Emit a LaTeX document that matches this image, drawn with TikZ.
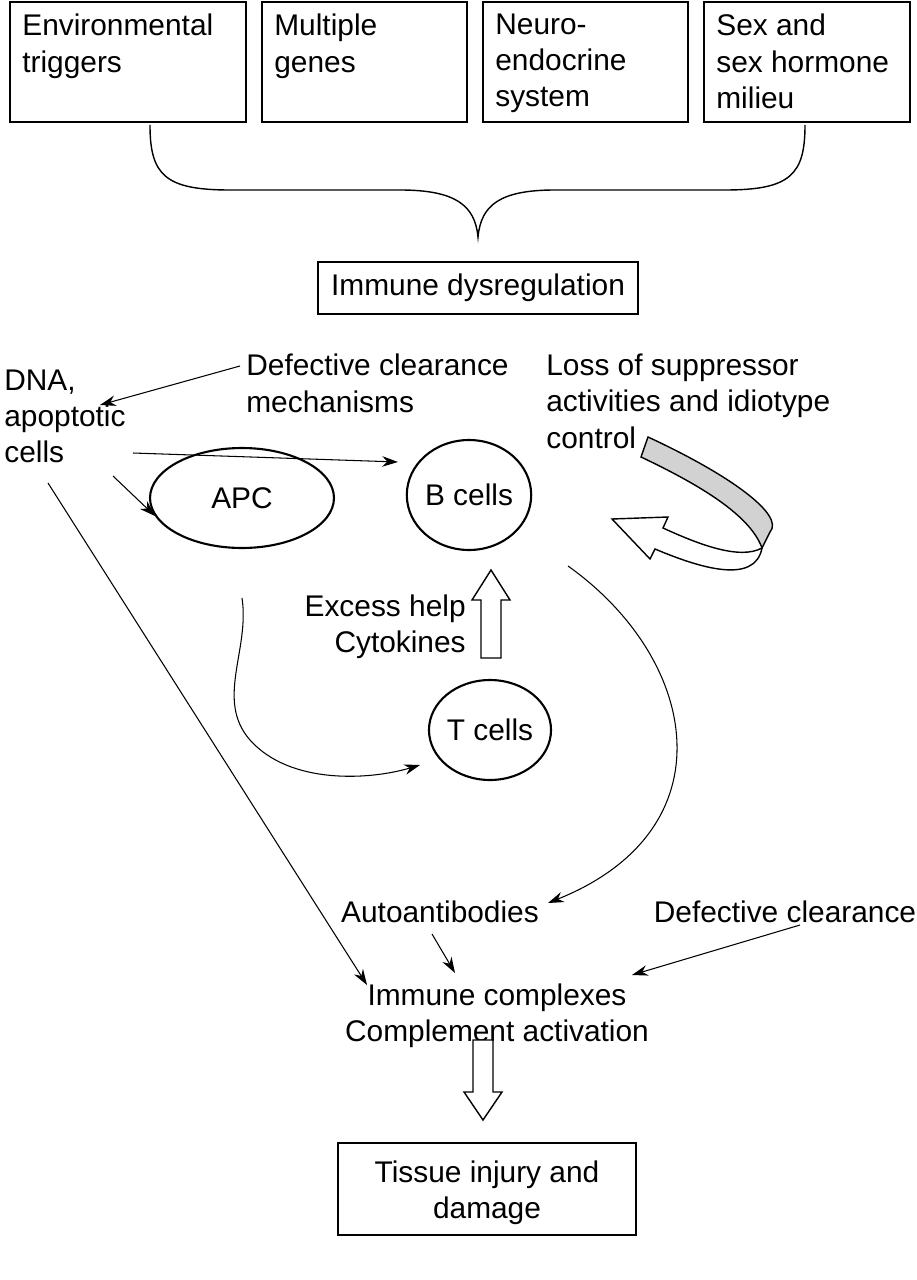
\documentclass[tikz,border=0pt]{standalone}
\usepackage{fontspec}
\setmainfont{Liberation Sans}
\usetikzlibrary{arrows.meta,shapes.geometric}
\begin{document}
\begin{tikzpicture}[x=0.02cm,y=-0.02cm,
  every node/.style={font=\fontsize{17}{20.5}\selectfont},
  txt/.style={align=left,inner sep=0pt},
  box/.style={draw,line width=1.2pt},
  cell/.style={draw,ellipse,line width=1.2pt,inner sep=0pt},
  arr/.style={-{Stealth[length=9pt,width=6pt]},line width=0.6pt},
  blk/.style={draw,line width=0.8pt,fill=white}]
\useasboundingbox (0,0) rectangle (916,1280);
% top factors
\draw[box] (10,2) rectangle (246,122);
\draw[box] (262,2) rectangle (467,122);
\draw[box] (483,2) rectangle (688,122);
\draw[box] (704,2) rectangle (910,122);
\node[txt,anchor=north west] (f1) at (22,14) {Environmental\\triggers};
\node[txt,anchor=north west] (f2) at (274,14) {Multiple\\genes};
\node[txt,anchor=north west] (f3) at (495,14) {Neuro-\\endocrine\\system};
\node[txt,anchor=north west] (f4) at (716,14) {Sex and\\sex hormone\\milieu};
% brace
\draw[line width=0.8pt] (150,125) .. controls (150,175) and (165,190) .. (230,190)
  -- (400,190) .. controls (455,190) and (475,205) .. (478,237)
  .. controls (481,205) and (500,190) .. (555,190) -- (725,190)
  .. controls (790,190) and (805,175) .. (805,125);
\draw[box] (318,262) rectangle (638,314);
\node (dys) at (478,288) {Immune dysregulation};
% middle texts
\node[txt,anchor=north west] (dcm) at (246,354) {Defective clearance\\mechanisms};
\node[txt,anchor=north west] (loss) at (546,354) {Loss of suppressor\\activities and idiotype\\control};
\node[txt,anchor=north west] (dna) at (4,370) {DNA,\\apoptotic\\cells};
\node[cell,minimum width=3.68cm,minimum height=2cm] (apc) at (242,498) {APC};
\node[cell,minimum width=2.4cm,minimum height=2.2cm] (bc) at (469,495) {B cells};
\node[cell,minimum width=2.32cm,minimum height=2cm] (tc) at (490,730) {T cells};
\node[txt,align=right,anchor=north east] (help) at (466,594) {Excess help\\Cytokines};
% arrows
\coordinate (d1) at (240,366); \coordinate (d2) at (100,405);
\draw[arr] (d1) -- (d2);
\coordinate (n1) at (133,453); \coordinate (n2) at (398,462);
\draw[arr] (n1) -- (n2);
\coordinate (a1) at (113,476); \coordinate (a2) at (155,516);
\draw[arr] (a1) -- (a2);
\coordinate (l1) at (48,483); \coordinate (l2) at (367,985);
\draw[arr] (l1) -- (l2);
\coordinate (p1) at (242,598); \coordinate (p2) at (420,765);
\draw[arr] (p1) .. controls (250,650) and (215,700) .. (250,740) .. controls (290,785) and (370,780) .. (p2);
\coordinate (b1) at (568,566); \coordinate (b2) at (548,903);
\draw[arr] (b1) .. controls (700,660) and (730,830) .. (b2);
% up block arrow
\draw[blk] (481,658) -- (481,600) -- (472,600) -- (491,570) -- (510,600) -- (501,600) -- (501,658) -- cycle;
% ribbon arrow
\draw[line width=0.8pt,fill=gray!35] (648,437) .. controls (730,475) and (785,515) .. (770,532) -- (762,548) .. controls (750,515) and (700,485) .. (641,457) -- cycle;
\draw[line width=0.8pt,fill=white] (762,548) .. controls (740,560) and (700,545) .. (663,528) -- (668,517) -- (612,519) -- (650,559) -- (655,549) .. controls (700,568) and (755,585) .. (762,548) -- cycle;
% bottom
\node (aab) at (440,912) {Autoantibodies};
\node (dc) at (785,912) {Defective clearance};
\node[align=center] (ic) at (497,1016) {Immune complexes\\Complement activation};
\coordinate (u1) at (432,934); \coordinate (u2) at (455,973);
\draw[arr] (u1) -- (u2);
\coordinate (v1) at (800,925); \coordinate (v2) at (632,975);
\draw[arr] (v1) -- (v2);
\draw[blk] (473,1040) -- (473,1092) -- (464,1092) -- (483,1120) -- (502,1092) -- (493,1092) -- (493,1040) -- cycle;
\draw[box] (338,1143) rectangle (636,1235);
\node[align=center] (tis) at (487,1193) {Tissue injury and\\damage};
\end{tikzpicture}
\end{document}
